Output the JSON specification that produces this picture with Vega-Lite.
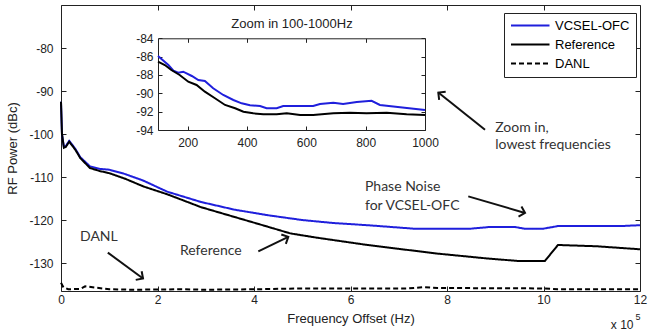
{
  "$schema": "https://vega.github.io/schema/vega-lite/v6.json",
  "width": 579,
  "height": 286,
  "autosize": "none",
  "padding": {"left": 61, "top": 5, "right": 9, "bottom": 43},
  "background": "white",
  "config": {
    "view": {"stroke": "#222222", "strokeWidth": 1},
    "font": "Liberation Sans",
    "axis": {
      "grid": false,
      "domainColor": "#222222",
      "tickColor": "#222222",
      "labelColor": "#222222",
      "titleColor": "#222222",
      "labelFont": "Liberation Sans",
      "titleFont": "Liberation Sans",
      "labelFontSize": 12,
      "titleFontSize": 13,
      "titleFontWeight": "normal",
      "tickSize": -5,
      "labelFlush": false,
      "labelOverlap": false
    }
  },
  "datasets": {
    "main": [
      {"f": 0, "dB": -92.5, "series": "VCSEL-OFC"},
      {"f": 2000, "dB": -100, "series": "VCSEL-OFC"},
      {"f": 6000, "dB": -103, "series": "VCSEL-OFC"},
      {"f": 10000, "dB": -102.8, "series": "VCSEL-OFC"},
      {"f": 17000, "dB": -101.6, "series": "VCSEL-OFC"},
      {"f": 22000, "dB": -102.3, "series": "VCSEL-OFC"},
      {"f": 30000, "dB": -103.5, "series": "VCSEL-OFC"},
      {"f": 40000, "dB": -105.4, "series": "VCSEL-OFC"},
      {"f": 60000, "dB": -107.5, "series": "VCSEL-OFC"},
      {"f": 80000, "dB": -108.1, "series": "VCSEL-OFC"},
      {"f": 100000, "dB": -108.3, "series": "VCSEL-OFC"},
      {"f": 130000, "dB": -109.2, "series": "VCSEL-OFC"},
      {"f": 170000, "dB": -110.8, "series": "VCSEL-OFC"},
      {"f": 220000, "dB": -113.4, "series": "VCSEL-OFC"},
      {"f": 290000, "dB": -115.8, "series": "VCSEL-OFC"},
      {"f": 360000, "dB": -117.6, "series": "VCSEL-OFC"},
      {"f": 430000, "dB": -118.9, "series": "VCSEL-OFC"},
      {"f": 500000, "dB": -120.0, "series": "VCSEL-OFC"},
      {"f": 565000, "dB": -120.7, "series": "VCSEL-OFC"},
      {"f": 635000, "dB": -121.2, "series": "VCSEL-OFC"},
      {"f": 730000, "dB": -122.0, "series": "VCSEL-OFC"},
      {"f": 850000, "dB": -122.0, "series": "VCSEL-OFC"},
      {"f": 890000, "dB": -121.6, "series": "VCSEL-OFC"},
      {"f": 940000, "dB": -121.6, "series": "VCSEL-OFC"},
      {"f": 960000, "dB": -122.0, "series": "VCSEL-OFC"},
      {"f": 1000000, "dB": -122.0, "series": "VCSEL-OFC"},
      {"f": 1030000, "dB": -121.4, "series": "VCSEL-OFC"},
      {"f": 1160000, "dB": -121.4, "series": "VCSEL-OFC"},
      {"f": 1200000, "dB": -121.2, "series": "VCSEL-OFC"},
      {"f": 0, "dB": -92.5, "series": "Reference"},
      {"f": 2000, "dB": -100, "series": "Reference"},
      {"f": 6000, "dB": -103.2, "series": "Reference"},
      {"f": 10000, "dB": -103, "series": "Reference"},
      {"f": 17000, "dB": -101.8, "series": "Reference"},
      {"f": 22000, "dB": -102.5, "series": "Reference"},
      {"f": 30000, "dB": -103.7, "series": "Reference"},
      {"f": 40000, "dB": -105.6, "series": "Reference"},
      {"f": 60000, "dB": -107.9, "series": "Reference"},
      {"f": 80000, "dB": -108.6, "series": "Reference"},
      {"f": 100000, "dB": -109.1, "series": "Reference"},
      {"f": 133000, "dB": -110.4, "series": "Reference"},
      {"f": 171000, "dB": -112.2, "series": "Reference"},
      {"f": 220000, "dB": -114.0, "series": "Reference"},
      {"f": 290000, "dB": -117.0, "series": "Reference"},
      {"f": 360000, "dB": -119.3, "series": "Reference"},
      {"f": 430000, "dB": -121.6, "series": "Reference"},
      {"f": 475000, "dB": -123.1, "series": "Reference"},
      {"f": 530000, "dB": -124.1, "series": "Reference"},
      {"f": 635000, "dB": -125.8, "series": "Reference"},
      {"f": 700000, "dB": -126.7, "series": "Reference"},
      {"f": 780000, "dB": -127.8, "series": "Reference"},
      {"f": 880000, "dB": -128.9, "series": "Reference"},
      {"f": 945000, "dB": -129.5, "series": "Reference"},
      {"f": 1003000, "dB": -129.5, "series": "Reference"},
      {"f": 1030000, "dB": -125.8, "series": "Reference"},
      {"f": 1110000, "dB": -126.1, "series": "Reference"},
      {"f": 1200000, "dB": -126.8, "series": "Reference"},
      {"f": 0, "dB": -134.6, "series": "DANL"},
      {"f": 5000, "dB": -135.6, "series": "DANL"},
      {"f": 15000, "dB": -136.1, "series": "DANL"},
      {"f": 40000, "dB": -136.0, "series": "DANL"},
      {"f": 50000, "dB": -135.4, "series": "DANL"},
      {"f": 70000, "dB": -135.7, "series": "DANL"},
      {"f": 100000, "dB": -136.1, "series": "DANL"},
      {"f": 150000, "dB": -136.2, "series": "DANL"},
      {"f": 250000, "dB": -136.1, "series": "DANL"},
      {"f": 300000, "dB": -136.2, "series": "DANL"},
      {"f": 400000, "dB": -136.1, "series": "DANL"},
      {"f": 500000, "dB": -135.9, "series": "DANL"},
      {"f": 720000, "dB": -135.9, "series": "DANL"},
      {"f": 750000, "dB": -135.6, "series": "DANL"},
      {"f": 780000, "dB": -135.8, "series": "DANL"},
      {"f": 1000000, "dB": -135.9, "series": "DANL"},
      {"f": 1030000, "dB": -136.1, "series": "DANL"},
      {"f": 1200000, "dB": -136.1, "series": "DANL"}
    ],
    "inset": [
      {"f": 100, "dB": -85.93, "series": "VCSEL-OFC"},
      {"f": 135, "dB": -86.91, "series": "VCSEL-OFC"},
      {"f": 152, "dB": -87.53, "series": "VCSEL-OFC"},
      {"f": 168, "dB": -87.75, "series": "VCSEL-OFC"},
      {"f": 185, "dB": -87.64, "series": "VCSEL-OFC"},
      {"f": 214, "dB": -88.11, "series": "VCSEL-OFC"},
      {"f": 236, "dB": -88.55, "series": "VCSEL-OFC"},
      {"f": 258, "dB": -88.66, "series": "VCSEL-OFC"},
      {"f": 286, "dB": -89.45, "series": "VCSEL-OFC"},
      {"f": 320, "dB": -90.18, "series": "VCSEL-OFC"},
      {"f": 354, "dB": -90.73, "series": "VCSEL-OFC"},
      {"f": 382, "dB": -91.09, "series": "VCSEL-OFC"},
      {"f": 410, "dB": -91.31, "series": "VCSEL-OFC"},
      {"f": 444, "dB": -91.38, "series": "VCSEL-OFC"},
      {"f": 466, "dB": -91.63, "series": "VCSEL-OFC"},
      {"f": 500, "dB": -91.63, "series": "VCSEL-OFC"},
      {"f": 522, "dB": -91.38, "series": "VCSEL-OFC"},
      {"f": 567, "dB": -91.38, "series": "VCSEL-OFC"},
      {"f": 623, "dB": -91.38, "series": "VCSEL-OFC"},
      {"f": 646, "dB": -91.16, "series": "VCSEL-OFC"},
      {"f": 691, "dB": -91.02, "series": "VCSEL-OFC"},
      {"f": 724, "dB": -91.16, "series": "VCSEL-OFC"},
      {"f": 770, "dB": -90.95, "series": "VCSEL-OFC"},
      {"f": 820, "dB": -90.81, "series": "VCSEL-OFC"},
      {"f": 848, "dB": -91.27, "series": "VCSEL-OFC"},
      {"f": 916, "dB": -91.52, "series": "VCSEL-OFC"},
      {"f": 1000, "dB": -91.82, "series": "VCSEL-OFC"},
      {"f": 100, "dB": -86.55, "series": "Reference"},
      {"f": 123, "dB": -86.91, "series": "Reference"},
      {"f": 145, "dB": -87.46, "series": "Reference"},
      {"f": 173, "dB": -88.0, "series": "Reference"},
      {"f": 202, "dB": -88.73, "series": "Reference"},
      {"f": 230, "dB": -89.09, "series": "Reference"},
      {"f": 258, "dB": -89.82, "series": "Reference"},
      {"f": 292, "dB": -90.54, "series": "Reference"},
      {"f": 326, "dB": -91.27, "series": "Reference"},
      {"f": 360, "dB": -91.63, "series": "Reference"},
      {"f": 388, "dB": -92.0, "series": "Reference"},
      {"f": 421, "dB": -92.18, "series": "Reference"},
      {"f": 455, "dB": -92.29, "series": "Reference"},
      {"f": 500, "dB": -92.29, "series": "Reference"},
      {"f": 534, "dB": -92.18, "series": "Reference"},
      {"f": 579, "dB": -92.36, "series": "Reference"},
      {"f": 623, "dB": -92.36, "series": "Reference"},
      {"f": 691, "dB": -92.18, "series": "Reference"},
      {"f": 747, "dB": -92.11, "series": "Reference"},
      {"f": 803, "dB": -92.18, "series": "Reference"},
      {"f": 871, "dB": -92.11, "series": "Reference"},
      {"f": 938, "dB": -92.29, "series": "Reference"},
      {"f": 1000, "dB": -92.36, "series": "Reference"}
    ],
    "labels": [
      {"text": "DANL", "f": 39400, "dB": -123.85, "g": "ann"},
      {"text": "Reference", "f": 246600, "dB": -127.26, "g": "ann"},
      {"text": "Phase Noise", "f": 630000, "dB": -112.32, "g": "ann"},
      {"text": "for VCSEL-OFC", "f": 630000, "dB": -116.82, "g": "ann"},
      {"text": "Zoom in,", "f": 900000, "dB": -98.6, "g": "ann"},
      {"text": "lowest frequencies", "f": 900000, "dB": -102.6, "g": "ann"},
      {"text": "x 10", "f": 1163000, "dB": -144.5, "g": "exp"},
      {"text": "5", "f": 1196000, "dB": -142.6, "g": "sup"}
    ],
    "arrows": [
      {"id": "danl", "f": 97000, "dB": -127.57, "f2": 170000, "dB2": -133.6},
      {"id": "ref", "f": 408900, "dB": -127.27, "f2": 471100, "dB2": -123.92},
      {"id": "pn", "f": 844100, "dB": -114.5, "f2": 961700, "dB2": -118.35},
      {"id": "zoom", "f": 878800, "dB": -99.02, "f2": 782000, "dB2": -90.36}
    ]
  },
  "layer": [
    {
      "layer": [
        {
          "data": {"name": "main"},
          "mark": {"type": "line", "strokeWidth": 2},
          "encoding": {
            "x": {"field": "f", "type": "quantitative",
              "scale": {"domain": [0, 1200000], "nice": false, "zero": false},
              "axis": {"orient": "bottom", "domain": false, "values": [0, 200000, 400000, 600000, 800000, 1000000, 1200000],
                "labelExpr": "'' + (datum.value / 100000)", "title": "Frequency Offset (Hz)", "labelPadding": 8, "titlePadding": 7}},
            "y": {"field": "dB", "type": "quantitative",
              "scale": {"domain": [-136.5, -70], "nice": false, "zero": false},
              "axis": {"orient": "left", "domain": false, "values": [-130, -120, -110, -100, -90, -80],
                "labelExpr": "'' + datum.value", "title": "RF Power (dBc)", "labelPadding": 13, "titlePadding": 9}},
            "color": {"field": "series", "type": "nominal",
              "scale": {"domain": ["VCSEL-OFC", "Reference", "DANL"], "range": ["#1f1fdc", "#000000", "#000000"]},
              "legend": {"title": null, "orient": "none", "legendX": 443, "legendY": 8, "strokeColor": "#222222", "fillColor": "white",
                "padding": 6, "rowPadding": 5, "symbolType": "M-1,0H6", "symbolSize": 121, "symbolStrokeWidth": 2,
                "labelOffset": 32, "labelFont": "Liberation Sans", "labelFontSize": 13, "labelColor": "#000000"}},
            "strokeDash": {"field": "series", "type": "nominal",
              "scale": {"domain": ["VCSEL-OFC", "Reference", "DANL"], "range": [[1, 0], [1, 0], [5, 3]]},
              "legend": {"title": null, "orient": "none", "legendX": 443, "legendY": 8, "strokeColor": "#222222", "fillColor": "white",
                "padding": 6, "rowPadding": 5, "symbolType": "M-1,0H6", "symbolSize": 121, "symbolStrokeWidth": 2,
                "labelOffset": 32, "labelFont": "Liberation Sans", "labelFontSize": 13, "labelColor": "#000000"}}
          }
        },
        {
          "data": {"name": "labels"},
          "transform": [{"filter": "datum.g === 'ann'"}],
          "mark": {"type": "text", "font": "Lato", "fontSize": 14, "align": "left", "baseline": "middle", "color": "#333333"},
          "encoding": {
            "x": {"field": "f", "type": "quantitative",
              "scale": {"domain": [0, 1200000], "nice": false, "zero": false},
              "axis": {"orient": "top", "labels": false, "title": null, "domain": false,
                "values": [0, 200000, 400000, 600000, 800000, 1000000, 1200000]}},
            "y": {"field": "dB", "type": "quantitative",
              "scale": {"domain": [-136.5, -70], "nice": false, "zero": false},
              "axis": {"orient": "right", "labels": false, "title": null, "domain": false,
                "values": [-130, -120, -110, -100, -90, -80]}},
            "text": {"field": "text"}
          }
        },
        {
          "data": {"name": "labels"},
          "transform": [{"filter": "datum.g === 'exp'"}],
          "mark": {"type": "text", "font": "Liberation Sans", "fontSize": 12, "align": "center", "baseline": "middle", "color": "#222222"},
          "encoding": {
            "x": {"field": "f", "type": "quantitative", "scale": {"domain": [0, 1200000], "nice": false, "zero": false}, "axis": null},
            "y": {"field": "dB", "type": "quantitative", "scale": {"domain": [-136.5, -70], "nice": false, "zero": false}, "axis": null},
            "text": {"field": "text"}
          }
        },
        {
          "data": {"name": "labels"},
          "transform": [{"filter": "datum.g === 'sup'"}],
          "mark": {"type": "text", "font": "Liberation Sans", "fontSize": 9, "align": "center", "baseline": "middle", "color": "#222222"},
          "encoding": {
            "x": {"field": "f", "type": "quantitative", "scale": {"domain": [0, 1200000], "nice": false, "zero": false}, "axis": null},
            "y": {"field": "dB", "type": "quantitative", "scale": {"domain": [-136.5, -70], "nice": false, "zero": false}, "axis": null},
            "text": {"field": "text"}
          }
        },
        {
          "data": {"name": "arrows"},
          "mark": {"type": "rule", "strokeWidth": 2, "color": "#111111"},
          "encoding": {
            "x": {"field": "f", "type": "quantitative", "scale": {"domain": [0, 1200000], "nice": false, "zero": false}, "axis": null},
            "y": {"field": "dB", "type": "quantitative", "scale": {"domain": [-136.5, -70], "nice": false, "zero": false}, "axis": null},
            "x2": {"field": "f2"},
            "y2": {"field": "dB2"}
          }
        },
        {
          "data": {"name": "arrows"},
          "transform": [{"filter": "datum.id === 'danl'"}],
          "mark": {"type": "point", "shape": "M-1,1L0,0L1,1", "angle": 124.4, "size": 110, "filled": false, "stroke": "#111111", "strokeWidth": 2, "opacity": 1},
          "encoding": {
            "x": {"field": "f2", "type": "quantitative", "scale": {"domain": [0, 1200000], "nice": false, "zero": false}, "axis": null},
            "y": {"field": "dB2", "type": "quantitative", "scale": {"domain": [-136.5, -70], "nice": false, "zero": false}, "axis": null}
          }
        },
        {
          "data": {"name": "arrows"},
          "transform": [{"filter": "datum.id === 'ref'"}],
          "mark": {"type": "point", "shape": "M-1,1L0,0L1,1", "angle": 64.4, "size": 110, "filled": false, "stroke": "#111111", "strokeWidth": 2, "opacity": 1},
          "encoding": {
            "x": {"field": "f2", "type": "quantitative", "scale": {"domain": [0, 1200000], "nice": false, "zero": false}, "axis": null},
            "y": {"field": "dB2", "type": "quantitative", "scale": {"domain": [-136.5, -70], "nice": false, "zero": false}, "axis": null}
          }
        },
        {
          "data": {"name": "arrows"},
          "transform": [{"filter": "datum.id === 'pn'"}],
          "mark": {"type": "point", "shape": "M-1,1L0,0L1,1", "angle": 106.3, "size": 110, "filled": false, "stroke": "#111111", "strokeWidth": 2, "opacity": 1},
          "encoding": {
            "x": {"field": "f2", "type": "quantitative", "scale": {"domain": [0, 1200000], "nice": false, "zero": false}, "axis": null},
            "y": {"field": "dB2", "type": "quantitative", "scale": {"domain": [-136.5, -70], "nice": false, "zero": false}, "axis": null}
          }
        },
        {
          "data": {"name": "arrows"},
          "transform": [{"filter": "datum.id === 'zoom'"}],
          "mark": {"type": "point", "shape": "M-1,1L0,0L1,1", "angle": -51.4, "size": 110, "filled": false, "stroke": "#111111", "strokeWidth": 2, "opacity": 1},
          "encoding": {
            "x": {"field": "f2", "type": "quantitative", "scale": {"domain": [0, 1200000], "nice": false, "zero": false}, "axis": null},
            "y": {"field": "dB2", "type": "quantitative", "scale": {"domain": [-136.5, -70], "nice": false, "zero": false}, "axis": null}
          }
        }
      ],
      "resolve": {"axis": {"x": "independent", "y": "independent"}}
    },
    {
      "layer": [
        {
          "data": {"name": "inset"},
          "transform": [{"filter": "datum.series === 'VCSEL-OFC'"}],
          "mark": {"type": "line", "strokeWidth": 2, "color": "#1f1fdc"},
          "encoding": {
            "x": {"field": "f", "type": "quantitative",
              "scale": {"domain": [100, 1000], "range": [97, 364], "nice": false, "zero": false},
              "axis": {"orient": "bottom", "offset": -161, "values": [200, 400, 600, 800, 1000], "labelExpr": "'' + datum.value",
                "title": null, "tickSize": -4, "labelPadding": 11}},
            "y": {"field": "dB", "type": "quantitative",
              "scale": {"domain": [-94, -84], "range": [125, 33.3], "nice": false, "zero": false},
              "axis": {"orient": "left", "offset": -97, "values": [-94, -92, -90, -88, -86, -84], "labelExpr": "'' + datum.value",
                "title": null, "tickSize": -4, "labelPadding": 9}}
          }
        },
        {
          "data": {"name": "inset"},
          "transform": [{"filter": "datum.series === 'Reference'"}],
          "mark": {"type": "line", "strokeWidth": 2, "color": "#000000"},
          "encoding": {
            "x": {"field": "f", "type": "quantitative",
              "scale": {"domain": [100, 1000], "range": [97, 364], "nice": false, "zero": false},
              "axis": {"orient": "top", "offset": -33.3, "values": [200, 400, 600, 800, 1000], "labels": false, "tickSize": -4,
                "title": "Zoom in 100-1000Hz", "titlePadding": 7}},
            "y": {"field": "dB", "type": "quantitative",
              "scale": {"domain": [-94, -84], "range": [125, 33.3], "nice": false, "zero": false},
              "axis": {"orient": "right", "offset": -215, "values": [-94, -92, -90, -88, -86, -84], "labels": false, "title": null, "tickSize": -4}}
          }
        }
      ],
      "resolve": {"axis": {"x": "independent", "y": "independent"}}
    }
  ],
  "resolve": {"scale": {"x": "independent", "y": "independent"}}
}
